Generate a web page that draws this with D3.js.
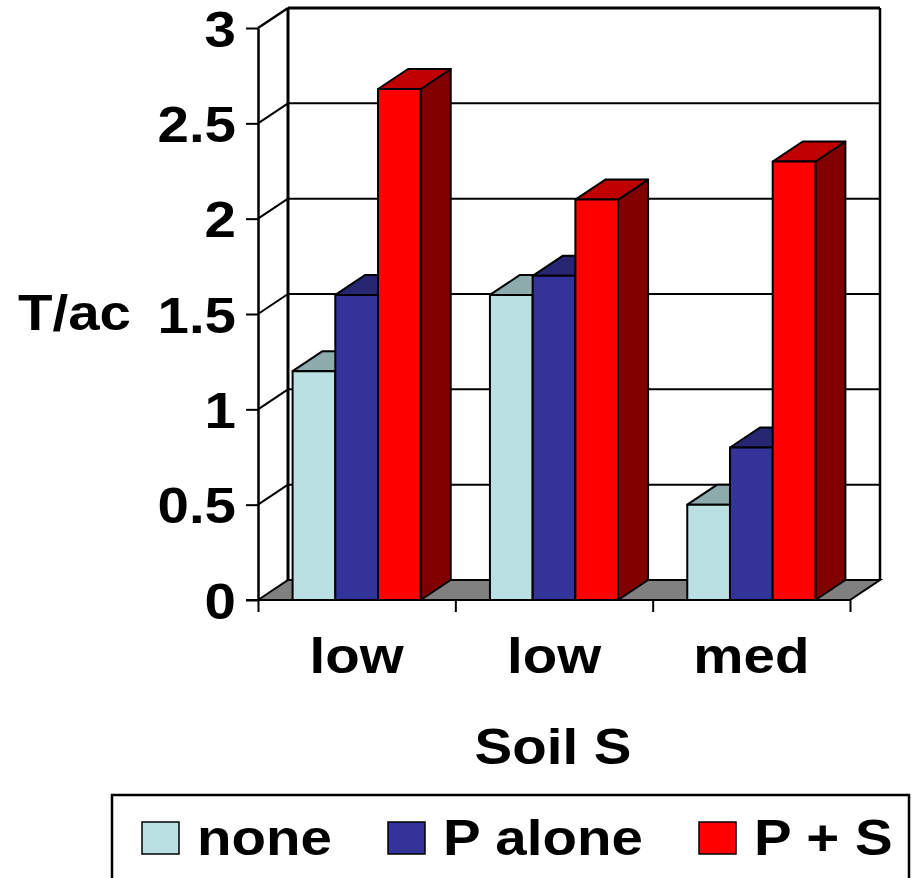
<!DOCTYPE html>
<html lang="en">
<head>
<meta charset="utf-8">
<title>T/ac by Soil S</title>
<script src="https://d3js.org/d3.v7.min.js"></script>
<style>
  body { margin: 0; background: #fff; }
  svg text { font-family: "Liberation Sans", Arial, sans-serif; font-weight: bold; fill: #000; }
</style>
</head>
<body>
<div id="graph"></div>
<script>
// data
const categories = ["low", "low", "med"];
const seriesNames = ["none", "P alone", "P + S"];
const noneVals = [1.2, 1.6, 0.5];
const pAloneVals = [1.6, 1.7, 0.8];
const psVals = [2.68, 2.1, 2.3];
const yTicks = [0, 0.5, 1, 1.5, 2, 2.5, 3];

const frontCol = ["#BBE0E3", "#333399", "#FF0000"];
const topCol = ["#8DAAAC", "#262673", "#C00000"];
const sideCol = ["#7E9A9C", "#1F1F5C", "#800000"];

const W = 913, H = 878;
const plot = { left: 258, right: 850, top: 28, bottom: 600 };
const dx = 30, dy = 20;   // depth offset of the back wall
const SX = 1.13;          // text is stretched sideways in the original
const FS = 50;

const svg = d3.select("#graph").append("svg")
  .attr("width", W).attr("height", H);

const y = d3.scaleLinear().domain([0, 3]).range([plot.bottom, plot.top]);
const x0 = d3.scaleBand().domain(d3.range(categories.length))
  .range([plot.left, plot.right]).paddingInner(0).paddingOuter(0);
const x1 = d3.scaleBand().domain(seriesNames)
  .range([0, x0.bandwidth()]).paddingInner(0).paddingOuter(0.81);
const xEdge = d3.scaleLinear().domain([0, categories.length]).range([plot.left, plot.right]);

const vals = [noneVals, pAloneVals, psVals];

// floor
svg.append("path")
  .attr("d", `M${plot.left},${plot.bottom}L${plot.left + dx},${plot.bottom - dy}L${plot.right + dx},${plot.bottom - dy}L${plot.right},${plot.bottom}Z`)
  .attr("fill", "#808080").attr("stroke", "#000").attr("stroke-width", 2);

// back wall gridlines + side wall diagonals
const grid = svg.append("g");
yTicks.filter(d => d > 0).forEach(v => {
  grid.append("line")
    .attr("x1", plot.left + dx).attr("x2", plot.right + dx)
    .attr("y1", y(v) - dy).attr("y2", y(v) - dy)
    .attr("stroke", "#000").attr("stroke-width", v === 3 ? 3 : 2);
  grid.append("line")
    .attr("x1", plot.left).attr("x2", plot.left + dx)
    .attr("y1", y(v)).attr("y2", y(v) - dy)
    .attr("stroke", "#000").attr("stroke-width", v === 3 ? 2.5 : 2);
});
// back wall edges
svg.append("line")
  .attr("x1", plot.left + dx).attr("x2", plot.left + dx)
  .attr("y1", y(3) - dy).attr("y2", plot.bottom - dy)
  .attr("stroke", "#000").attr("stroke-width", 3);
svg.append("line")
  .attr("x1", plot.right + dx).attr("x2", plot.right + dx)
  .attr("y1", y(3) - dy).attr("y2", plot.bottom - dy)
  .attr("stroke", "#000").attr("stroke-width", 2.5);

// bars, painted left to right
const bars = svg.append("g");
categories.forEach((c, i) => {
  seriesNames.forEach((s, j) => {
    const v = vals[j][i];
    const xl = x0(i) + x1(s), xr = xl + x1.bandwidth();
    const yt = y(v), yb = y(0);
    const g = bars.append("g").attr("stroke", "#000").attr("stroke-width", 2).attr("stroke-linejoin", "round");
    g.append("path")
      .attr("d", `M${xr},${yt}L${xr + dx},${yt - dy}L${xr + dx},${yb - dy}L${xr},${yb}Z`)
      .attr("fill", sideCol[j]);
    g.append("path")
      .attr("d", `M${xl},${yt}L${xl + dx},${yt - dy}L${xr + dx},${yt - dy}L${xr},${yt}Z`)
      .attr("fill", topCol[j]);
    g.append("rect")
      .attr("x", xl).attr("y", yt)
      .attr("width", xr - xl).attr("height", yb - yt)
      .attr("fill", frontCol[j]);
  });
});

// y axis (front left edge)
const yAxis = svg.append("g")
  .attr("transform", `translate(${plot.left},0)`)
  .call(d3.axisLeft(y).tickValues(yTicks).tickSize(12).tickSizeOuter(0).tickFormat(d => String(d)));
yAxis.select(".domain").attr("stroke-width", 2.5);
yAxis.selectAll(".tick line").attr("stroke-width", 2);
yAxis.selectAll(".tick text")
  .attr("x", null).attr("dy", null)
  .attr("font-size", FS)
  .attr("text-anchor", "end")
  .attr("transform", `translate(-22,18) scale(${SX},1)`);

// category tick marks
const xAxis = svg.append("g")
  .attr("transform", `translate(0,${plot.bottom})`)
  .call(d3.axisBottom(xEdge).tickValues(d3.range(categories.length + 1)).tickSize(12).tickFormat(""));
xAxis.select(".domain").remove();
xAxis.selectAll(".tick line").attr("stroke-width", 2);
svg.append("line")
  .attr("x1", plot.left - 12).attr("x2", plot.left)
  .attr("y1", plot.bottom).attr("y2", plot.bottom)
  .attr("stroke", "#000").attr("stroke-width", 2);

// category labels
svg.append("g").selectAll("text")
  .data(categories)
  .join("text")
  .attr("text-anchor", "middle")
  .attr("font-size", FS)
  .attr("transform", (d, i) => `translate(${x0(i) + x0.bandwidth() / 2},673) scale(${SX},1)`)
  .text(d => d);

// axis titles
svg.append("text")
  .attr("text-anchor", "middle").attr("font-size", FS)
  .attr("transform", `translate(553,764) scale(${SX},1)`)
  .text("Soil S");
svg.append("text")
  .attr("text-anchor", "start").attr("font-size", FS)
  .attr("transform", `translate(18,330) scale(${SX},1)`)
  .text("T/ac");

// legend
const legend = svg.append("g");
legend.append("rect")
  .attr("x", 112).attr("y", 795).attr("width", 797).attr("height", 120)
  .attr("fill", "#fff").attr("stroke", "#000").attr("stroke-width", 2.5);
const legX = [142, 388, 699];
const item = legend.selectAll("g.item")
  .data(seriesNames)
  .join("g").attr("class", "item")
  .attr("transform", (d, i) => `translate(${legX[i]},0)`);
item.append("rect")
  .attr("x", 0).attr("y", 822).attr("width", 37).attr("height", 32)
  .attr("fill", (d, i) => frontCol[i]).attr("stroke", "#000").attr("stroke-width", 1.5);
item.append("text")
  .attr("font-size", FS)
  .attr("transform", `translate(55,855) scale(${SX},1)`)
  .text(d => d);
</script>
</body>
</html>
